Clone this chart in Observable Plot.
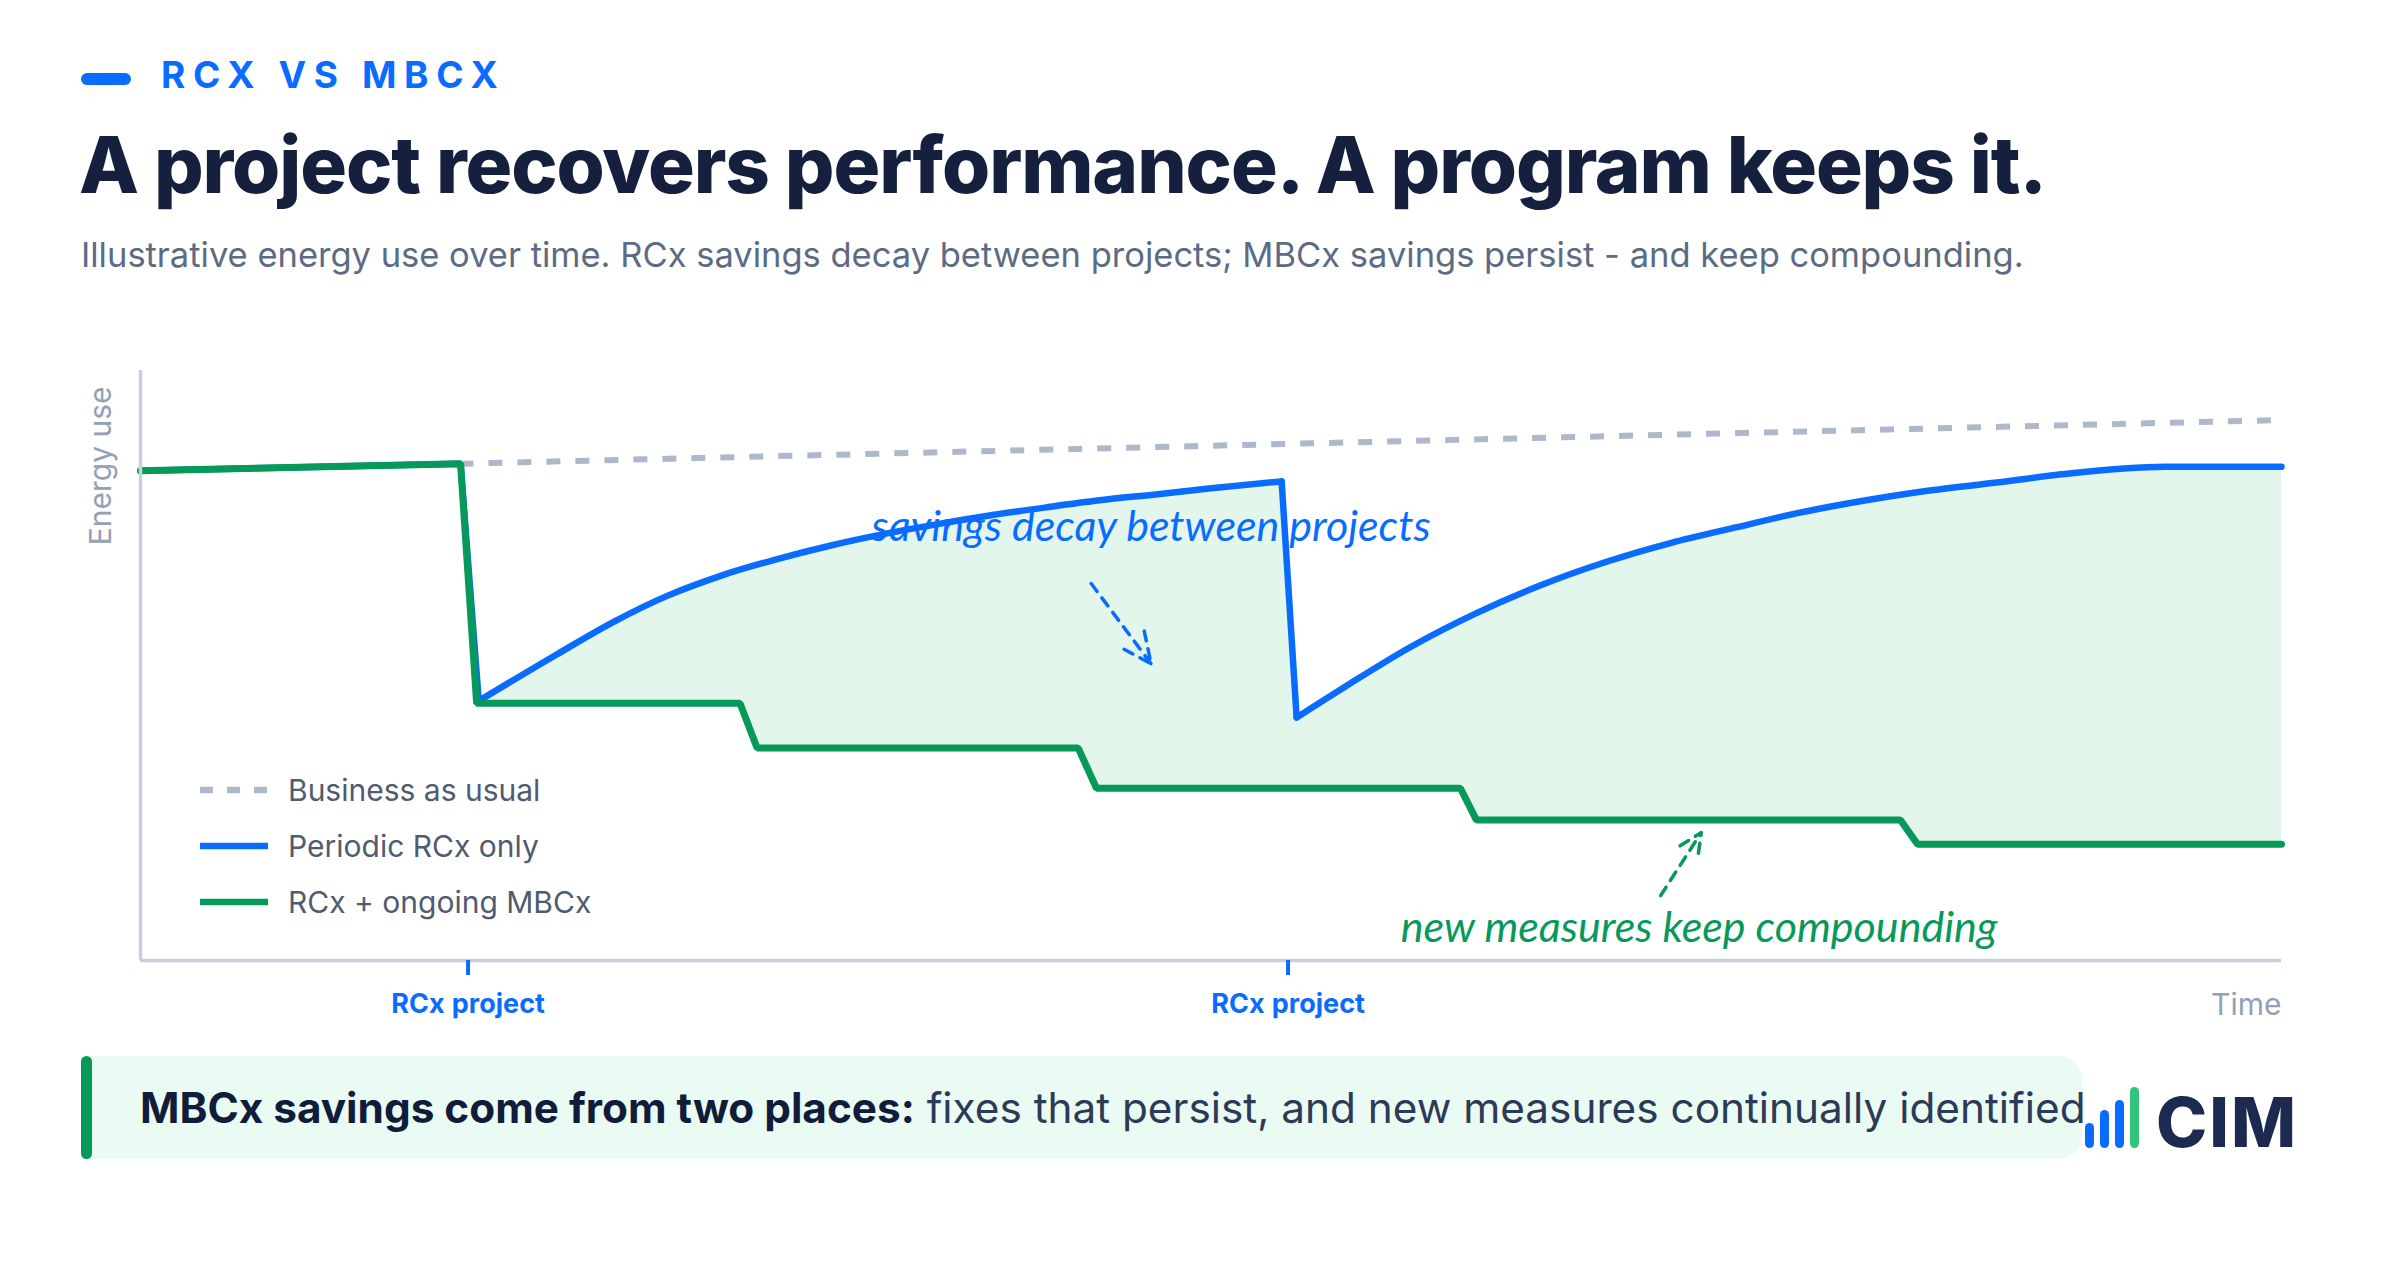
<!DOCTYPE html>
<html>
<head>
<meta charset="utf-8">
<script src="https://cdn.jsdelivr.net/npm/d3@7"></script>
<script src="https://cdn.jsdelivr.net/npm/@observablehq/plot@0.6"></script>
<style>
  html, body { margin: 0; padding: 0; background: #ffffff; }
  body { width: 2400px; height: 1280px; position: relative; overflow: hidden; font-family: Inter, "Noto Sans", sans-serif; }
  .abs { position: absolute; white-space: nowrap; }
  #eyebar { left: 81px; top: 73px; width: 50px; height: 12px; border-radius: 6px; background: #0a6cff; }
  #eyebrow { left: 161px; top: 56px; font-size: 37px; line-height: 37px; font-weight: 700; letter-spacing: 7.6px; color: #0a6cff; }
  #title { left: 79px; top: 126px; font-size: 78px; line-height: 78px; font-weight: 800; letter-spacing: -1.1px; color: #14203d; }
  #subtitle { left: 81px; top: 238px; font-size: 34.5px; line-height: 34.5px; font-weight: 400; color: #5c6b84; }
  #chart { left: 0; top: 340px; }
  #callout { left: 81px; top: 1056px; width: 2001px; height: 103px; background: #e9fbf2; border-radius: 6px 24px 24px 6px; }
  #callbar { left: 81px; top: 1056px; width: 11px; height: 103px; border-radius: 6px; background: #06995a; }
  #calltext { left: 140px; top: 1056px; height: 103px; line-height: 103px; font-size: 42.3px; color: #2d3a55; }
  #calltext b { color: #111c3a; font-weight: 700; }
  #logo { left: 2080px; top: 1075px; }
</style>
</head>
<body>
<div id="eyebar" class="abs"></div>
<div id="eyebrow" class="abs">RCX VS MBCX</div>
<div id="title" class="abs">A project recovers performance. A program keeps it.</div>
<div id="subtitle" class="abs">Illustrative energy use over time. RCx savings decay between projects; MBCx savings persist - and keep compounding.</div>
<div id="chart" class="abs"></div>
<div id="callout" class="abs"></div>
<div id="callbar" class="abs"></div>
<div id="calltext" class="abs"><b>MBCx savings come from two places:</b> fixes that persist, and new measures continually identified</div>
<svg id="logo" class="abs" width="300" height="100" viewBox="0 0 300 100">
  <rect x="5" y="48" width="9" height="25" rx="4.5" fill="#0a6cff"/>
  <rect x="20" y="35" width="9" height="38" rx="4.5" fill="#0a6cff"/>
  <rect x="35" y="25" width="9" height="48" rx="4.5" fill="#0a6cff"/>
  <rect x="50" y="12" width="9" height="61" rx="4.5" fill="#34c47c"/>
  <text x="76" y="72" font-family="Inter" font-weight="800" font-size="69" fill="#1b2a4e" letter-spacing="2">CIM</text>
</svg>
<script>
// ---- data (time index 0-100, energy-use index 0-100) ----
const bauTime   = [0, 15, 100];
const bauEnergy = [83.0, 84.2, 91.6];

const rcxTime   = [0, 14.95, 15.8, 19.5, 22.1, 24.6, 27.1, 29.7, 32.2, 34.75, 37.3, 39.8, 42.3, 44.8, 47.4, 49.9, 53.3,
                   54.0, 56.3, 59.3, 62.35, 65.4, 68.4, 71.5, 74.5, 77.5, 80.6, 83.65, 86.7, 89.7, 94.6, 100];
const rcxEnergy = [83.0, 84.2, 44.0, 52.0, 57.4, 61.8, 65.2, 68.0, 70.3, 72.3, 74.0, 75.5, 76.8, 78.0, 79.0, 80.0, 81.2,
                   41.2, 46.5, 53.1, 58.8, 63.6, 67.5, 70.8, 73.4, 75.9, 78.0, 79.7, 81.0, 82.4, 83.7, 83.7];
// pieces of the RCx line: straight drops at each project, smooth decay in between
const rcxPieces = [[0, 2, "linear"], [2, 16, "monotone-x"], [16, 17, "linear"], [17, 31, "monotone-x"]];

const mbcxTime   = [0, 14.95, 15.7, 28.0, 28.8, 43.8, 44.65, 61.65, 62.4, 82.2, 83.0, 100];
const mbcxEnergy = [83.0, 84.2, 43.6, 43.6, 36.0, 36.0, 29.2, 29.2, 23.8, 23.8, 19.7, 19.7];

const projectTimes = [15.3, 53.6];
const projectLabel = "RCx project";

const seriesNames = ["Business as usual", "Periodic RCx only", "RCx + ongoing MBCx"];

const noteTexts = ["savings decay between projects", "new measures keep compounding"];
const noteTime  = [47.2, 72.8];
const noteEnergy = [73.4, 5.4];
const arrowFromTime = [44.4, 71.0];
const arrowFromEnergy = [63.9, 11.0];
const arrowToTime = [47.2, 72.9];
const arrowToEnergy = [50.3, 21.7];

// ---- styles ----
const BLUE = "#0a6cff", GREEN = "#06995a", GRAY = "#aeb8cb", MINT = "#e2f6ec", AXIS = "#c8d0de", LABEL = "#94a0b4";
const seriesStyles = [
  {stroke: GRAY, dash: "13,14"},
  {stroke: BLUE, dash: null},
  {stroke: GREEN, dash: null}
];
const noteColors = [BLUE, GREEN];

const bau = bauTime.map((t, i) => ({t, e: bauEnergy[i]}));
const rcx = rcxTime.map((t, i) => ({t, e: rcxEnergy[i]}));
const mbcx = mbcxTime.map((t, i) => ({t, e: mbcxEnergy[i]}));
const notes = noteTexts.map((text, i) => ({text, t: noteTime[i], e: noteEnergy[i], color: noteColors[i]}));
const arrows = noteTexts.map((_, i) => ({t1: arrowFromTime[i], e1: arrowFromEnergy[i], t2: arrowToTime[i], e2: arrowToEnergy[i], color: noteColors[i]}));

const rcxLines = rcxPieces.map(([a, b, curve]) =>
  Plot.line(rcx.slice(a, b + 1), {x: "t", y: "e", curve, stroke: BLUE, strokeWidth: 6.5, strokeLinecap: "round", strokeLinejoin: "miter"}));

const chart = Plot.plot({
  width: 2400,
  height: 700,
  marginLeft: 140,
  marginRight: 119,
  marginTop: 30,
  marginBottom: 80,
  style: {fontFamily: "Inter, 'Noto Sans', sans-serif", background: "transparent", overflow: "visible"},
  x: {domain: [0, 100], axis: null},
  y: {domain: [0, 100], axis: null},
  marks: [
    Plot.areaY(rcx, {x: "t", y: "e", fill: MINT}),
    Plot.areaY(mbcx, {x: "t", y: "e", fill: "#ffffff"}),
    Plot.line(bau, {x: "t", y: "e", stroke: GRAY, strokeWidth: 6, strokeDasharray: "14,15", strokeLinecap: "butt"}),
    ...rcxLines,
    Plot.line(mbcx, {x: "t", y: "e", stroke: GREEN, strokeWidth: 7, strokeLinejoin: "miter"}),
    Plot.ruleX([0], {y1: 0, y2: 100, stroke: AXIS, strokeWidth: 3.5}),
    Plot.ruleY([0], {x1: 0, x2: 100, stroke: AXIS, strokeWidth: 3.5}),
    Plot.axisX({ticks: projectTimes, tickFormat: () => projectLabel, tickSize: 15, tickPadding: 18,
                stroke: BLUE, strokeWidth: 4, fill: BLUE, fontSize: 27, fontWeight: 700, label: null}),
    Plot.text(["Time"], {frameAnchor: "bottom-right", dy: 45, textAnchor: "end", lineAnchor: "middle", fontSize: 30, fill: LABEL}),
    Plot.text(["Energy use"], {frameAnchor: "top-left", dx: -39, dy: 16, rotate: -90, textAnchor: "end", lineAnchor: "middle", fontSize: 30, fill: LABEL}),
    Plot.arrow(arrows, {x1: "t1", y1: "e1", x2: "t2", y2: "e2", stroke: "color", strokeWidth: 3.5, strokeDasharray: "10,8", headLength: 16, headAngle: 50}),
    Plot.text(notes, {x: "t", y: "e", text: "text", fill: "color", fontSize: 43, fontStyle: "italic", fontFamily: "Lato, 'Open Sans', sans-serif", lineAnchor: "middle"})
  ]
});
document.getElementById("chart").appendChild(chart);

// ---- legend (inside plot, lower-left) ----
const svg = d3.select(chart.tagName.toLowerCase() === "svg" ? chart : chart.querySelector("svg"));
const lg = svg.append("g").attr("font-family", "Inter, 'Noto Sans', sans-serif").attr("text-anchor", "start");
const rowY = [450, 506, 562];
seriesNames.forEach((name, i) => {
  const s = seriesStyles[i];
  lg.append("line").attr("x1", 200).attr("x2", 268).attr("y1", rowY[i]).attr("y2", rowY[i])
    .attr("stroke", s.stroke).attr("stroke-width", 6.5).attr("stroke-dasharray", s.dash);
  lg.append("text").attr("x", 288).attr("y", rowY[i]).attr("dy", "0.35em").attr("text-anchor", "start")
    .attr("font-size", 30).attr("fill", "#4f5b70").text(name);
});
</script>
</body>
</html>
